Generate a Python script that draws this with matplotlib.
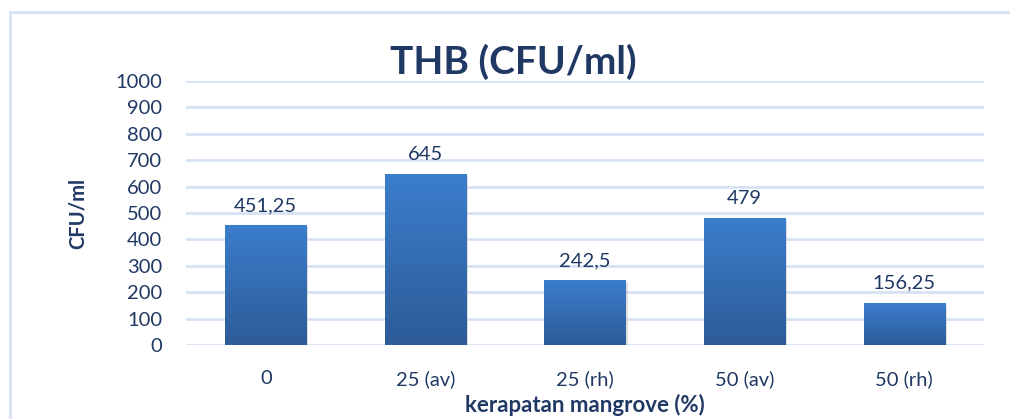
import numpy as np
import matplotlib.pyplot as plt
from matplotlib.patches import Rectangle
from matplotlib.colors import LinearSegmentedColormap

plt.rcParams['font.family'] = ['Lato', 'DejaVu Sans']

kategori = ['0', '25 (av)', '25 (rh)', '50 (av)', '50 (rh)']
nilai = [451.25, 645, 242.5, 479, 156.25]
label_nilai = ['451,25', '645', '242,5', '479', '156,25']
yticks = [0, 100, 200, 300, 400, 500, 600, 700, 800, 900, 1000]

teks = '#203864'
grid = '#D6E2F4'

fig = plt.figure(figsize=(10.10, 4.19), dpi=100)
# bingkai chart
fig.patches.append(Rectangle((10/1010, -0.1), 1.2, 1 - 12/419 + 0.1, transform=fig.transFigure,
                             fill=False, edgecolor=grid, linewidth=2))

ax = fig.add_axes([186/1010, 1 - 345/419, 798/1010, 264/419])

# bar dengan gradien
cmap = LinearSegmentedColormap.from_list('biru', ['#2D5B97', '#3B7ECC'])
grad = np.linspace(0, 1, 256).reshape(-1, 1)
lebar = 0.51
for i, v in enumerate(nilai):
    ax.bar(i, v, width=lebar, color='none', zorder=3)
    # bayangan
    ax.bar(i + 0.012, v, width=lebar, bottom=-6, color='#bfbfbf', alpha=0.5, zorder=2)
    ax.imshow(grad, cmap=cmap, origin='lower', aspect='auto',
              extent=[i - lebar/2, i + lebar/2, 0, v], zorder=3)
    ax.text(i, v + 45, label_nilai[i], ha='center', va='bottom', fontsize=14.5, color=teks)

ax.set_xlim(-0.5, 4.5)
ax.set_ylim(0, 1000)
ax.set_yticks(yticks)
ax.set_yticklabels([str(t) for t in yticks], fontsize=14.5, color=teks)
ax.set_xticks(range(len(kategori)))
ax.set_xticklabels(kategori, fontsize=14.5, color=teks)
ax.tick_params(axis='both', length=0)
ax.tick_params(axis='y', pad=17)
ax.tick_params(axis='x', pad=18)
ax.grid(axis='y', color=grid, linewidth=2, zorder=0)
ax.set_axisbelow(True)
for s in ax.spines.values():
    s.set_visible(False)

ax.set_ylabel('CFU/ml', fontsize=14.5, fontweight='bold', color=teks, labelpad=20)
ax.set_xlabel('kerapatan mangrove (%)', fontsize=16, fontweight='bold', color=teks, labelpad=4)
fig.text(513/1010, 1 - 62/419, 'THB (CFU/ml)', ha='center', va='center',
         fontsize=28, fontweight='bold', color=teks)

fig.savefig('out.png', dpi=100)
